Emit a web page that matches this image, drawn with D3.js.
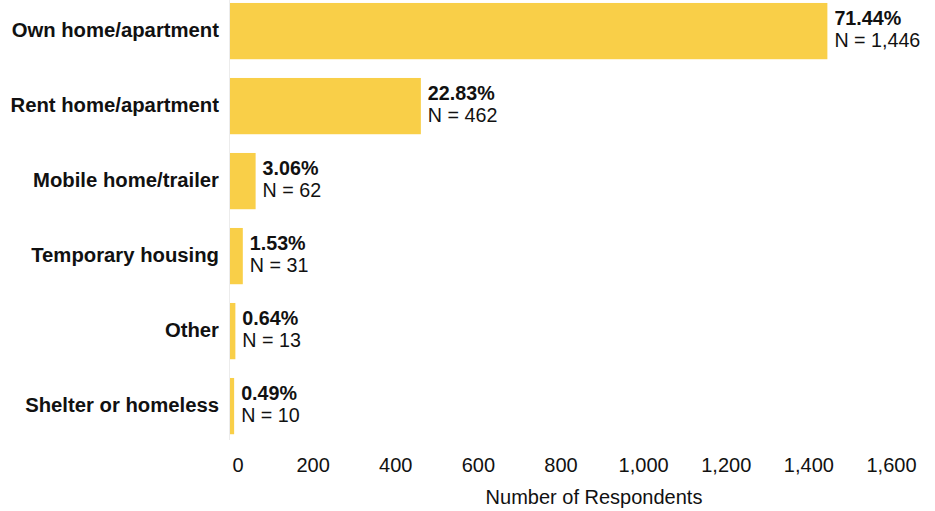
<!DOCTYPE html>
<html><head><meta charset="utf-8">
<script src="https://cdn.jsdelivr.net/npm/d3@7"></script>
<style>body{margin:0;background:#fff}svg{display:block;font-family:"Liberation Sans",Arial,sans-serif}</style>
</head><body>
<svg id="chart" width="935" height="511"></svg>
<script>
const categories = ["Own home/apartment","Rent home/apartment","Mobile home/trailer","Temporary housing","Other","Shelter or homeless"];
const counts = [1446, 462, 62, 31, 13, 10];
const percents = ["71.44%","22.83%","3.06%","1.53%","0.64%","0.49%"];
const tickValues = [0,200,400,600,800,1000,1200,1400,1600];
const axisTitle = "Number of Respondents";

const svg = d3.select("#chart");
const x = d3.scaleLinear().domain([0,1600]).range([230, 891]);
const y = d3.scaleBand().domain(categories).range([-6.4, 443.6]).paddingInner(0.25).paddingOuter(0.125);
const fmt = d3.format(",");
const FS = 20;

// faint baseline
svg.append("line").attr("x1",229.5).attr("x2",229.5).attr("y1",0).attr("y2",440)
  .attr("stroke","#ececec").attr("stroke-width",1);

svg.selectAll("rect.bar").data(categories).join("rect").attr("class","bar")
  .attr("x", x(0)).attr("y", d=>y(d)).attr("height", y.bandwidth())
  .attr("width", (d,i)=>x(counts[i])-x(0)).attr("fill","#F9CF48");

// category labels
svg.selectAll("text.cat").data(categories).join("text").attr("class","cat")
  .attr("x",219).attr("y",d=>y(d)+y.bandwidth()/2 - 1).attr("dy","0.35em")
  .attr("text-anchor","end").attr("font-weight","bold").attr("font-size",20.3).attr("fill","#111")
  .text(d=>d);

// value labels
const vl = svg.selectAll("g.val").data(categories).join("g").attr("class","val")
  .attr("transform",(d,i)=>`translate(${x(counts[i])+7},${y(d)+y.bandwidth()/2})`);
vl.append("text").attr("y",-13).attr("dy","0.35em").attr("font-weight","bold").attr("font-size",FS-0.3).attr("fill","#111")
  .text((d,i)=>percents[i]);
vl.append("text").attr("y",9).attr("dy","0.35em").attr("font-size",FS-0.3).attr("fill","#111")
  .text((d,i)=>"N = "+fmt(counts[i]));

// x axis
const ax = svg.append("g").attr("transform","translate(0,465)")
  .call(d3.axisBottom(x).tickValues(tickValues).tickFormat(fmt).tickSize(0).tickPadding(0));
ax.select(".domain").remove();
ax.selectAll("text").attr("font-size",FS).attr("fill","#111").attr("dy","0.35em")
  .attr("font-family","'Liberation Sans',Arial,sans-serif");
ax.selectAll(".tick").filter(d=>d===0).select("text").attr("text-anchor","start").attr("x",2);

svg.append("text").attr("x",594).attr("y",497).attr("dy","0.35em").attr("text-anchor","middle")
  .attr("font-size",FS).attr("fill","#111").text(axisTitle);
</script>
</body></html>
